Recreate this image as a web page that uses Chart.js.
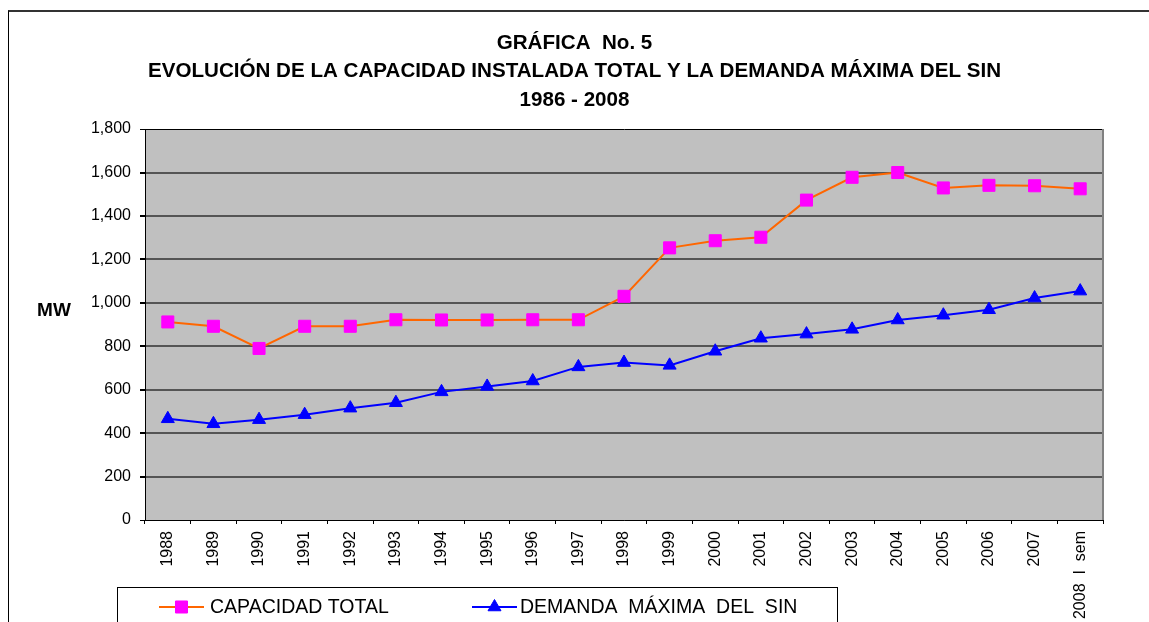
<!DOCTYPE html>
<html>
<head>
<meta charset="utf-8">
<script src="https://cdn.jsdelivr.net/npm/chart.js@4.4.0/dist/chart.umd.min.js"></script>
<style>
  html, body { margin: 0; padding: 0; background: #fff; overflow: hidden; }
  #wrap { position: absolute; left: 0; top: 0; width: 1149px; height: 700px; }
  #frame { position: absolute; left: 8px; top: 10px; width: 1200px; height: 700px;
           border-top: 2px solid #333; border-left: 1px solid #000; pointer-events: none; }
</style>
</head>
<body>
<div id="wrap"><canvas id="chart" width="1149" height="700"></canvas></div>
<div id="frame"></div>
<script>
// chart data
const years = ["1988", "1989", "1990", "1991", "1992", "1993", "1994", "1995", "1996", "1997",
               "1998", "1999", "2000", "2001", "2002", "2003", "2004", "2005", "2006", "2007", "2008  I  sem"];
const capacidadTotal = [912, 892, 790, 892, 892, 922, 921, 921, 922, 922,
                        1030, 1253, 1286, 1302, 1473, 1578, 1600, 1529, 1541, 1539, 1525];
const demandaMaxima = [466, 443, 462, 485, 515, 540, 590, 615, 640, 705,
                       725, 712, 777, 837, 856, 878, 921, 943, 968, 1022, 1054];
const yTicks = [0, 200, 400, 600, 800, 1000, 1200, 1400, 1600, 1800];

const titleLines = ["GRÁFICA  No. 5",
                    "EVOLUCIÓN DE LA CAPACIDAD INSTALADA TOTAL Y LA DEMANDA MÁXIMA DEL SIN",
                    "1986 - 2008"];
const yLabel = "MW";

const FONT = "'Liberation Sans', Arial, sans-serif";

// grey plot background + right border
const plotBackground = {
  id: "plotBackground",
  beforeDraw(chart) {
    const { ctx, chartArea: a } = chart;
    ctx.save();
    ctx.fillStyle = "#c0c0c0";
    ctx.fillRect(a.left, a.top, a.right - a.left, a.bottom - a.top);
    ctx.restore();
  },
  afterDraw(chart) {
    const { ctx, chartArea: a } = chart;
    ctx.save();
    ctx.strokeStyle = "#808080";
    ctx.lineWidth = 2;
    ctx.beginPath();
    ctx.moveTo(a.right, a.top);
    ctx.lineTo(a.right, a.bottom);
    ctx.stroke();
    ctx.restore();
  }
};

// horizontal "MW" label
const axisLabel = {
  id: "axisLabel",
  afterDraw(chart) {
    const ctx = chart.ctx;
    ctx.save();
    ctx.font = "bold 19px " + FONT;
    ctx.fillStyle = "#000";
    ctx.textAlign = "center";
    ctx.textBaseline = "middle";
    ctx.fillText(yLabel, 54, 311);
    ctx.restore();
  }
};

// boxed legend with line + marker samples
const boxLegend = {
  id: "boxLegend",
  afterDraw(chart) {
    const ctx = chart.ctx;
    const items = [
      { x: 159, textX: 210 },
      { x: 472, textX: 520 }
    ];
    const cy = 607;
    ctx.save();
    ctx.strokeStyle = "#000";
    ctx.lineWidth = 1;
    ctx.strokeRect(117.5, 587.5, 720, 120);
    chart.data.datasets.forEach((ds, i) => {
      const it = items[i];
      ctx.strokeStyle = ds.borderColor;
      ctx.lineWidth = 2;
      ctx.beginPath();
      ctx.moveTo(it.x, cy);
      ctx.lineTo(it.x + 45, cy);
      ctx.stroke();
      ctx.fillStyle = ds.pointBackgroundColor;
      ctx.strokeStyle = ds.pointBorderColor;
      ctx.lineWidth = 1;
      Chart.helpers.drawPoint(ctx, {
        pointStyle: ds.pointStyle,
        radius: ds.pointRadius,
        borderWidth: 1
      }, it.x + 22.5, cy);
      ctx.font = "19.5px " + FONT;
      ctx.fillStyle = "#000";
      ctx.textAlign = "left";
      ctx.textBaseline = "middle";
      ctx.fillText(ds.label, it.textX, cy + 1);
    });
    ctx.restore();
  }
};

const ctx = document.getElementById("chart").getContext("2d");
const chart = new Chart(ctx, {
  type: "line",
  data: {
    labels: years,
    datasets: [{
      label: "CAPACIDAD TOTAL",
      data: capacidadTotal,
      borderColor: "#ff6600",
      borderWidth: 2,
      pointStyle: "rect",
      pointRadius: 8.5,
      pointBackgroundColor: "#ff00ff",
      pointBorderColor: "#ff00ff",
      pointBorderWidth: 1,
      tension: 0
    }, {
      label: "DEMANDA  MÁXIMA  DEL  SIN",
      data: demandaMaxima,
      borderColor: "#0000ff",
      borderWidth: 2,
      pointStyle: "triangle",
      pointRadius: 7.5,
      pointBackgroundColor: "#0000ff",
      pointBorderColor: "#0000ff",
      pointBorderWidth: 1,
      tension: 0
    }]
  },
  options: {
    responsive: false,
    animation: false,
    layout: { padding: { left: 0, right: 0, top: 0, bottom: 0 } },
    plugins: {
      legend: { display: false },
      tooltip: { enabled: false },
      title: {
        display: true,
        text: titleLines,
        color: "#000",
        font: { family: FONT, size: 20.6, weight: "bold", lineHeight: 1.385 },
        padding: { top: 28.75, bottom: 14.75 }
      }
    },
    scales: {
      x: {
        offset: true,
        grid: { offset: true, drawOnChartArea: false, drawTicks: true, tickLength: 4, color: "#000", lineWidth: 1 },
        border: { color: "#000", width: 1 },
        ticks: {
          color: "#000",
          font: { family: FONT, size: 16 },
          minRotation: 90,
          maxRotation: 90,
          autoSkip: false,
          padding: 7
        },
        afterFit(scale) { scale.height = 180; }
      },
      y: {
        min: 0,
        max: 1800,
        afterBuildTicks(scale) { scale.ticks = yTicks.map(v => ({ value: v })); },
        grid: {
          color: (c) => (c.tick && c.tick.value === 1800) ? "#000" : "#555",
          lineWidth: (c) => (c.tick && (c.tick.value === 1800 || c.tick.value === 0)) ? 1 : 2,
          tickColor: "#000",
          tickLength: 5
        },
        border: { color: "#000", width: 1 },
        ticks: {
          color: "#000",
          font: { family: FONT, size: 16 },
          padding: 9,
          callback: (v) => v.toLocaleString("en-US")
        },
        afterFit(scale) { scale.width = 145; }
      },
      // empty right-hand strip so the title stays centred on the full width
      yRight: {
        position: "right",
        min: 0,
        max: 1800,
        grid: { display: false, drawOnChartArea: false },
        border: { display: false },
        ticks: { display: false },
        afterFit(scale) { scale.width = 46; }
      }
    }
  },
  plugins: [plotBackground, axisLabel, boxLegend]
});
</script>
</body>
</html>
